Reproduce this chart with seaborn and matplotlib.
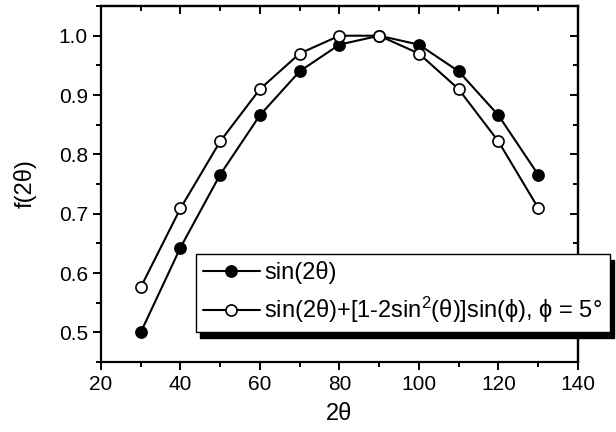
import matplotlib
matplotlib.use("Agg")
import matplotlib.pyplot as plt
import seaborn as sns
import pandas as pd
from matplotlib.ticker import MultipleLocator

two_theta = [30, 40, 50, 60, 70, 80, 90, 100, 110, 120, 130]
f_sin = [0.500, 0.643, 0.766, 0.866, 0.940, 0.985, 1.000, 0.985, 0.940, 0.866, 0.766]
f_corr = [0.576, 0.709, 0.822, 0.910, 0.970, 1.000, 1.000, 0.970, 0.910, 0.822, 0.710]

label_sin = "sin(2θ)"
label_corr = "sin(2θ)+[1-2sin$^{2}$(θ)]sin(ϕ), ϕ = 5°"

sns.set_theme(style="ticks")
plt.rcParams["font.family"] = ["Liberation Sans", "DejaVu Sans"]
plt.rcParams["mathtext.fontset"] = "custom"
plt.rcParams["mathtext.rm"] = "Liberation Sans"
plt.rcParams["mathtext.it"] = "Liberation Sans"
plt.rcParams["text.color"] = "black"
plt.rcParams["axes.labelcolor"] = "black"
plt.rcParams["xtick.color"] = "black"
plt.rcParams["ytick.color"] = "black"

df = pd.DataFrame({"x": two_theta, "sin": f_sin, "corr": f_corr})

fig = plt.figure(figsize=(6.16, 4.32), dpi=100)
ax = fig.add_axes([0.164, 0.162, 0.774, 0.824])

sns.lineplot(data=df, x="x", y="sin", ax=ax, color="black", lw=1.5,
             marker="o", markersize=8, markerfacecolor="black",
             markeredgecolor="black", markeredgewidth=1.2, label=label_sin)
sns.lineplot(data=df, x="x", y="corr", ax=ax, color="black", lw=1.5,
             marker="o", markersize=8, markerfacecolor="white",
             markeredgecolor="black", markeredgewidth=1.2, label=label_corr)

ax.set_xlim(20, 140)
ax.set_ylim(0.45, 1.05)
ax.xaxis.set_major_locator(MultipleLocator(20))
ax.xaxis.set_minor_locator(MultipleLocator(10))
ax.yaxis.set_major_locator(MultipleLocator(0.1))
ax.yaxis.set_minor_locator(MultipleLocator(0.05))
ax.yaxis.set_major_formatter(plt.FuncFormatter(lambda v, p: f"{v:.1f}"))

for s in ax.spines.values():
    s.set_linewidth(1.6)
    s.set_color("black")

ax.tick_params(which="both", direction="out", colors="black",
               top=False, right=False, labelsize=15, width=1.4)
ax.tick_params(which="major", length=6)
ax.tick_params(which="minor", length=3.5)

# mirrored inward ticks on top and right
sec_x = ax.secondary_xaxis("top")
sec_x.xaxis.set_major_locator(MultipleLocator(20))
sec_x.xaxis.set_minor_locator(MultipleLocator(10))
sec_x.tick_params(which="both", direction="in", labeltop=False, width=1.4)
sec_x.tick_params(which="major", length=6)
sec_x.tick_params(which="minor", length=3.5)
sec_y = ax.secondary_yaxis("right")
sec_y.yaxis.set_major_locator(MultipleLocator(0.1))
sec_y.yaxis.set_minor_locator(MultipleLocator(0.05))
sec_y.tick_params(which="both", direction="in", labelright=False, width=1.4)
sec_y.tick_params(which="major", length=6)
sec_y.tick_params(which="minor", length=3.5)
sec_x.spines["top"].set_linewidth(1.6)
sec_y.spines["right"].set_linewidth(1.6)

ax.set_xlabel("2θ", fontsize=17, labelpad=6)
ax.set_ylabel("f(2θ)", fontsize=17, labelpad=16)

leg = ax.legend(loc="upper left", bbox_to_anchor=(196 / 616, 1 - 254 / 432),
                bbox_transform=fig.transFigure, fontsize=17, frameon=True,
                fancybox=False, edgecolor="black", framealpha=1,
                shadow={"color": "black", "alpha": 1, "ox": 3, "oy": -4},
                handlelength=2.4, handletextpad=0.2, borderpad=0.3,
                labelspacing=0.45, borderaxespad=0)
leg.get_frame().set_linewidth(1.0)

fig.savefig("out.png", dpi=100)
